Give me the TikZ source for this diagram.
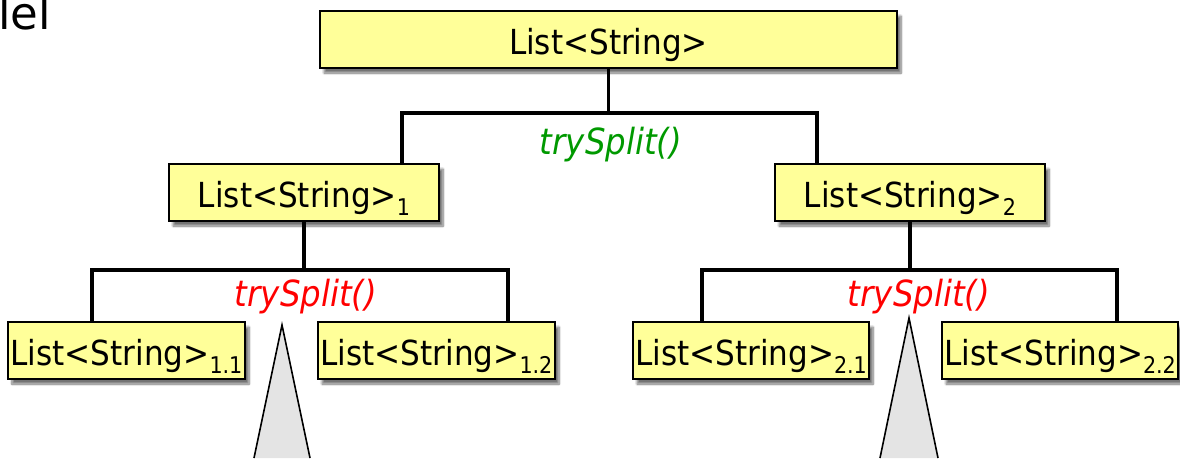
\documentclass[tikz,border=0pt]{standalone}
\usepackage{fontspec}
\setmainfont{DejaVu Sans Condensed}
\newfontfamily\titlefont{DejaVu Sans}
\usetikzlibrary{shadows.blur}
\definecolor{boxyellow}{RGB}{255,255,153}
\definecolor{splitgreen}{RGB}{0,153,0}
\definecolor{splitred}{RGB}{255,0,0}
\definecolor{wedgegray}{RGB}{228,228,228}
\newcommand{\lsub}[1]{\raisebox{-8pt}{\fontsize{23}{23}\selectfont #1}}
\begin{document}
\begin{tikzpicture}[x=1pt,y=-1pt,
  listbox/.style={draw=black, line width=2.6pt, fill=boxyellow, inner sep=0pt,
    text height=43pt, text depth=14pt, minimum height=57pt,
    font=\fontsize{34.5}{40}\selectfont,
    blur shadow={shadow xshift=4pt, shadow yshift=-5pt, shadow blur steps=8, shadow opacity=55}},
  conn/.style={line width=3.5pt, line join=miter},
  splitlabel/.style={font=\itshape\fontsize{36}{40}\selectfont, inner sep=0pt},
  wedge/.style={line width=1.6pt, line join=miter},
]
\useasboundingbox (0,0) rectangle (1180,458);

\node[font=\titlefont\fontsize{45}{45}\selectfont, anchor=base west, inner sep=0pt] (title) at (-2,29) {lel};

% coordinates of the bars
\coordinate (t0) at (402,113); \coordinate (t1) at (817,113);
\coordinate (u0) at (92,270);  \coordinate (u1) at (508,270);
\coordinate (v0) at (702,270); \coordinate (v1) at (1117,270);

% boxes
\node[listbox, minimum width=577pt] (top) at (608.5,39.5) {List<String>};
\node[listbox, minimum width=270pt] (b1) at (304,192.5) {List<String>\lsub{1}};
\node[listbox, minimum width=270pt] (b2) at (910,192.5) {List<String>\lsub{2}};
\node[listbox, minimum width=237pt] (b11) at (126.5,350.5) {List<String>\lsub{1.1}};
\node[listbox, minimum width=237pt] (b12) at (436.5,350.5) {List<String>\lsub{1.2}};
\node[listbox, minimum width=236pt] (b21) at (751,350.5) {List<String>\lsub{2.1}};
\node[listbox, minimum width=236pt] (b22) at (1060,350.5) {List<String>\lsub{2.2}};

% connectors
\draw[conn] (top.south) -- (top.south |- t0);
\draw[conn] (t0 |- b1.north) -- (t0) -- (t1) -- (t1 |- b2.north);
\draw[conn] (b1.south) -- (b1.south |- u0);
\draw[conn] (u0 |- b11.north) -- (u0) -- (u1) -- (u1 |- b12.north);
\draw[conn] (b2.south) -- (b2.south |- v0);
\draw[conn] (v0 |- b21.north) -- (v0) -- (v1) -- (v1 |- b22.north);

% labels
\node[splitlabel, text=splitgreen] (g0) at (611,145) {trySplit()};
\node[splitlabel, text=splitred] (r1) at (306,297) {trySplit()};
\node[splitlabel, text=splitred] (r2) at (919,297) {trySplit()};

% wedges
\fill[wedgegray] (282,325) -- (254,458) -- (310,458) -- cycle;
\draw[wedge] (254,458) -- (282,325) -- (310,458);
\fill[wedgegray] (909,318) -- (880,458) -- (938,458) -- cycle;
\draw[wedge] (880,458) -- (909,318) -- (938,458);
\end{tikzpicture}
\end{document}
